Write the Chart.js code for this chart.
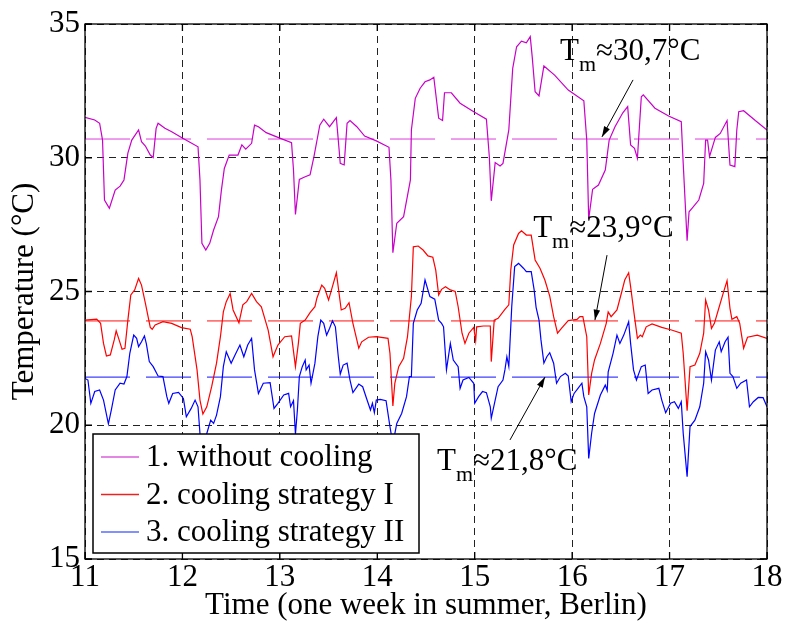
<!DOCTYPE html>
<html>
<head>
<meta charset="utf-8">
<script src="https://cdn.jsdelivr.net/npm/chart.js@4.4.1/dist/chart.umd.min.js"></script>
<style>
  body { margin: 0; background: #fff; }
  #wrap { width: 785px; height: 624px; }
</style>
</head>
<body>
<div id="wrap"><canvas id="temps" width="785" height="624"></canvas></div>
<script>
// time axis in days (11 .. 18), temperatures in °C
var xTicks = [11, 12, 13, 14, 15, 16, 17, 18];
var yTicks = [15, 20, 25, 30, 35];

var seriesNames = ["1. without cooling", "2. cooling strategy I", "3. cooling strategy II"];
var meanTemps = [30.7, 23.9, 21.8];
var meanLabels = ["≈30,7°C", "≈23,9°C", "≈21,8°C"];

// 1. without cooling
var tWithout = [11.00,11.10,11.15,11.18,11.20,11.25,11.31,11.36,11.40,11.44,11.48,11.55,11.58,11.62,11.67,11.70,11.73,11.75,11.82,11.89,
  11.99,12.16,12.18,12.20,12.24,12.28,12.32,12.37,12.40,12.43,12.48,12.57,12.61,12.65,12.71,12.74,12.78,12.86,12.98,13.12,
  13.14,13.16,13.20,13.26,13.31,13.35,13.41,13.45,13.51,13.58,13.62,13.66,13.69,13.72,13.79,13.87,13.99,14.12,14.14,14.16,
  14.20,14.27,14.34,14.35,14.39,14.44,14.49,14.54,14.58,14.63,14.67,14.69,14.76,14.85,14.99,15.12,15.15,15.17,15.21,15.26,
  15.29,15.35,15.39,15.43,15.48,15.53,15.57,15.59,15.62,15.66,15.71,15.82,15.96,16.12,16.15,16.17,16.21,16.27,16.34,16.38,
  16.44,16.52,16.57,16.60,16.64,16.67,16.71,16.73,16.85,16.99,17.12,17.14,17.18,17.20,17.23,17.30,17.35,17.37,17.39,17.41,
  17.47,17.52,17.59,17.62,17.67,17.69,17.71,17.76,17.88,18.00];
var tempWithout = [31.51,31.41,31.29,30.66,28.42,28.11,28.79,28.94,29.17,30.17,30.66,31.04,30.60,30.44,30.10,30.01,31.10,31.29,31.10,30.97,
  30.76,30.41,29.17,26.80,26.55,26.80,27.30,27.80,28.79,29.60,30.10,30.10,30.48,30.32,30.54,31.22,31.16,30.94,30.76,30.56,
  29.54,27.88,29.19,29.29,29.36,30.04,31.22,31.44,31.16,31.50,29.79,29.73,31.29,31.39,31.16,30.81,30.63,30.39,29.17,26.45,
  27.55,27.80,29.17,31.04,32.22,32.60,32.84,32.91,33.01,31.48,31.39,32.43,32.43,32.04,31.72,31.44,30.04,28.39,29.82,29.69,
  29.79,31.04,33.34,34.15,34.36,34.30,34.53,33.78,32.47,32.31,33.43,33.09,32.53,32.13,30.66,27.70,28.82,28.98,29.54,30.66,
  31.16,31.68,31.91,30.48,30.35,29.98,32.28,32.35,31.85,31.56,31.35,29.79,26.90,27.98,28.11,28.42,29.04,30.66,30.66,30.04,
  30.76,30.91,31.39,29.73,29.67,31.04,31.72,31.76,31.39,31.04];

// 2. cooling strategy I
var tStrategy1 = [11.00,11.12,11.16,11.19,11.22,11.26,11.30,11.32,11.35,11.38,11.41,11.44,11.47,11.51,11.55,11.58,11.62,11.67,11.69,11.72,
  11.80,11.89,11.99,12.08,12.10,12.15,12.18,12.21,12.25,12.30,12.35,12.39,12.42,12.45,12.49,12.52,12.58,12.62,12.66,12.71,
  12.76,12.81,12.88,12.93,12.98,13.05,13.12,13.16,13.19,13.21,13.26,13.31,13.36,13.38,13.43,13.46,13.50,13.53,13.58,13.63,
  13.67,13.71,13.75,13.81,13.84,13.91,13.99,14.11,14.13,14.16,14.18,14.22,14.27,14.31,14.35,14.37,14.42,14.47,14.52,14.57,
  14.60,14.63,14.66,14.70,14.75,14.80,14.83,14.87,14.90,14.94,14.99,15.01,15.02,15.09,15.16,15.17,15.20,15.24,15.31,15.35,
  15.37,15.40,15.45,15.48,15.53,15.58,15.62,15.67,15.72,15.77,15.81,15.85,15.89,15.96,16.05,16.08,16.11,16.15,16.17,16.20,
  16.23,16.29,16.35,16.37,16.40,16.46,16.51,16.54,16.58,16.60,16.64,16.67,16.70,16.72,16.76,16.82,16.92,17.02,17.12,17.14,
  17.18,17.21,17.26,17.31,17.35,17.37,17.40,17.43,17.46,17.50,17.55,17.59,17.62,17.64,17.69,17.72,17.76,17.80,17.90,18.00];
var tempStrategy1 = [23.93,23.97,23.81,23.06,22.59,22.63,23.19,23.53,23.19,22.84,22.88,23.93,24.87,25.06,25.49,25.24,24.56,23.66,23.59,23.75,
  23.87,23.81,23.65,23.59,23.31,22.07,20.94,20.42,20.69,21.44,22.32,23.31,24.24,24.62,24.93,24.31,23.83,24.50,24.62,24.93,
  24.62,24.43,23.56,22.56,23.00,23.31,23.34,22.19,23.06,23.81,23.93,24.21,24.43,24.75,25.24,25.12,24.68,25.06,25.70,24.31,
  24.37,24.58,23.81,22.88,23.12,23.29,23.31,23.25,22.69,20.72,21.57,22.19,22.50,23.31,24.81,26.67,26.70,26.55,26.33,26.28,
  25.80,24.87,25.08,25.18,25.06,25.00,24.43,23.44,23.06,23.44,23.66,23.16,23.68,23.71,23.71,22.38,23.93,24.00,24.33,24.50,
  25.80,26.74,27.17,27.27,27.11,27.11,26.18,25.87,25.43,24.83,24.06,23.44,23.62,23.91,23.96,24.06,24.06,23.31,21.13,21.94,
  22.44,23.06,23.81,24.24,24.06,24.31,25.00,25.43,25.70,25.18,24.06,23.25,23.37,23.31,23.68,23.79,23.66,23.56,23.44,22.69,
  20.54,22.19,22.25,22.69,23.44,24.68,24.31,23.62,23.81,24.31,24.93,25.40,24.37,23.96,24.06,23.81,22.88,23.29,23.37,23.25];

// 3. cooling strategy II
var tStrategy2 = [11.00,11.03,11.06,11.10,11.15,11.19,11.24,11.27,11.31,11.36,11.40,11.43,11.46,11.50,11.53,11.55,11.58,11.61,11.63,11.66,
  11.70,11.75,11.80,11.84,11.86,11.90,11.96,12.01,12.04,12.09,12.13,12.16,12.18,12.21,12.25,12.29,12.32,12.35,12.39,12.42,
  12.45,12.50,12.54,12.59,12.63,12.67,12.71,12.74,12.78,12.83,12.90,12.94,12.98,13.04,13.09,13.11,13.14,13.16,13.18,13.20,
  13.23,13.26,13.27,13.30,13.32,13.36,13.39,13.42,13.45,13.48,13.51,13.54,13.57,13.60,13.62,13.65,13.69,13.72,13.75,13.81,
  13.85,13.89,13.93,13.95,13.97,13.99,14.03,14.09,14.13,14.16,14.20,14.25,14.30,14.33,14.35,14.37,14.41,14.45,14.49,14.54,
  14.59,14.63,14.66,14.68,14.71,14.75,14.78,14.83,14.85,14.88,14.94,14.99,15.00,15.04,15.08,15.12,15.16,15.17,15.21,15.24,
  15.29,15.31,15.33,15.35,15.36,15.38,15.41,15.45,15.50,15.53,15.58,15.61,15.63,15.66,15.68,15.71,15.74,15.77,15.81,15.84,
  15.88,15.93,15.96,15.99,16.02,16.06,16.10,16.12,16.15,16.17,16.20,16.23,16.29,16.34,16.36,16.37,16.42,16.46,16.49,16.53,
  16.58,16.60,16.63,16.66,16.71,16.75,16.78,16.82,16.89,16.92,16.96,17.01,17.05,17.09,17.12,17.14,17.18,17.21,17.26,17.31,
  17.35,17.37,17.40,17.43,17.47,17.51,17.53,17.57,17.60,17.62,17.65,17.69,17.73,17.79,17.82,17.86,17.91,17.96,18.00];
var tempStrategy2 = [21.75,21.69,20.82,21.26,21.32,20.94,20.05,20.57,21.32,21.57,21.54,21.82,22.69,23.37,23.25,22.94,23.12,23.34,23.04,22.38,
  22.19,21.84,21.82,21.07,20.82,21.19,21.23,21.00,20.32,20.63,20.94,20.69,19.69,19.30,19.69,20.19,20.07,20.38,21.07,22.19,
  22.75,22.32,22.63,23.00,22.56,23.00,23.25,22.07,21.19,21.57,21.59,20.63,20.82,21.13,21.19,20.69,20.92,19.67,20.57,21.82,
  22.19,22.44,22.07,22.25,21.57,22.32,23.31,23.93,23.81,23.37,23.62,23.91,23.68,22.56,21.91,22.25,22.32,21.69,21.22,21.54,
  21.44,21.00,20.57,20.82,20.47,20.94,20.97,20.92,19.95,19.30,20.07,20.44,21.07,21.82,21.82,23.81,24.31,24.56,25.43,24.81,
  24.71,23.93,23.81,23.68,22.07,23.06,22.44,22.19,21.38,21.69,21.79,21.57,20.82,21.07,21.26,21.22,20.69,20.26,20.94,21.44,
  21.69,22.07,22.56,22.20,22.94,24.43,25.93,26.05,25.87,25.74,25.74,25.06,24.41,23.93,23.19,22.32,22.56,22.71,22.32,21.57,
  21.82,21.94,21.84,20.88,21.19,21.38,21.57,21.07,20.69,18.76,19.70,20.44,21.13,21.50,21.30,22.00,22.69,23.37,23.06,23.37,
  23.87,23.06,22.07,21.69,22.19,22.25,21.19,21.32,21.38,20.94,20.47,20.82,20.88,20.63,20.88,19.70,18.08,19.95,20.19,20.69,
  21.57,22.75,22.44,21.69,22.81,23.12,22.75,23.12,23.29,21.94,21.82,21.38,21.57,21.69,20.69,20.88,21.04,21.03,20.69];

var lineColors = ["#c800c8", "#ff0000", "#0000ff"];
var meanColors = ["#dc3cdc", "#ff1010", "#1010ff"];
var legendColors = ["#d860d8", "#ee2020", "#5a6cff"];

// where the "T_m" notes and their arrows sit, in axis units
var notePos = [[15.875, 33.65], [15.60, 27.04], [14.613, 18.33]];
var arrowFrom = [[16.625, 32.91], [16.358, 26.36], [15.362, 19.45]];
var arrowTo = [[16.306, 30.78], [16.234, 23.93], [15.721, 21.80]];

var FONT = "'Liberation Serif', 'Times New Roman', serif";

var toPoints = function(xs, ys) {
    return xs.map(function(x, i) { return {x: x, y: ys[i]}; });
};

var datasets = [];
[[tWithout, tempWithout], [tStrategy1, tempStrategy1], [tStrategy2, tempStrategy2]].forEach(function(s, i) {
    datasets.push({
        label: seriesNames[i],
        data: toPoints(s[0], s[1]),
        borderColor: lineColors[i],
        borderWidth: 1.2,
        pointRadius: 0,
        tension: 0
    });
});
meanTemps.forEach(function(m, i) {
    datasets.push({
        label: "mean " + (i + 1),
        data: [{x: xTicks[0], y: m}, {x: xTicks[xTicks.length - 1], y: m}],
        borderColor: meanColors[i],
        borderWidth: 1,
        borderDash: [45, 16],
        pointRadius: 0
    });
});

var drawArrow = function(ctx, x1, y1, x2, y2) {
    var a = Math.atan2(y2 - y1, x2 - x1);
    ctx.beginPath();
    ctx.moveTo(x1, y1);
    ctx.lineTo(x2, y2);
    ctx.stroke();
    ctx.beginPath();
    ctx.moveTo(x2, y2);
    ctx.lineTo(x2 - 11 * Math.cos(a - 0.3), y2 - 11 * Math.sin(a - 0.3));
    ctx.lineTo(x2 - 11 * Math.cos(a + 0.3), y2 - 11 * Math.sin(a + 0.3));
    ctx.closePath();
    ctx.fill();
};

var extras = {
    id: 'extras',
    afterDraw: function(chart) {
        var ctx = chart.ctx;
        var area = chart.chartArea;
        var xs = chart.scales.x, ys = chart.scales.y;
        ctx.save();

        // axes box and inward ticks
        ctx.strokeStyle = '#000';
        ctx.lineWidth = 1.3;
        ctx.setLineDash([]);
        ctx.strokeRect(area.left, area.top, area.right - area.left, area.bottom - area.top);
        ctx.beginPath();
        xTicks.forEach(function(t) {
            var px = xs.getPixelForValue(t);
            ctx.moveTo(px, area.bottom); ctx.lineTo(px, area.bottom - 7);
            ctx.moveTo(px, area.top); ctx.lineTo(px, area.top + 7);
        });
        yTicks.forEach(function(t) {
            var py = ys.getPixelForValue(t);
            ctx.moveTo(area.left, py); ctx.lineTo(area.left + 7, py);
            ctx.moveTo(area.right, py); ctx.lineTo(area.right - 7, py);
        });
        ctx.stroke();

        // legend box
        var lx = area.left + 8, ly = area.bottom - 125, lw = 326, lh = 119;
        ctx.fillStyle = '#fff';
        ctx.fillRect(lx, ly, lw, lh);
        ctx.lineWidth = 1.5;
        ctx.strokeRect(lx, ly, lw, lh);
        ctx.font = '31px ' + FONT;
        ctx.textBaseline = 'middle';
        ctx.textAlign = 'left';
        seriesNames.forEach(function(name, i) {
            var ry = ly + 23 + i * 37.5;
            ctx.strokeStyle = legendColors[i];
            ctx.lineWidth = 1.3;
            ctx.beginPath();
            ctx.moveTo(lx + 8, ry);
            ctx.lineTo(lx + 46, ry);
            ctx.stroke();
            ctx.fillStyle = '#000';
            ctx.fillText(name, lx + 53, ry + 1);
        });

        // T_m notes with arrows
        ctx.fillStyle = '#000';
        ctx.strokeStyle = '#000';
        ctx.lineWidth = 1;
        ctx.textBaseline = 'alphabetic';
        meanLabels.forEach(function(lab, i) {
            var px = xs.getPixelForValue(notePos[i][0]);
            var py = ys.getPixelForValue(notePos[i][1]);
            ctx.font = '31px ' + FONT;
            ctx.fillText('T', px, py);
            var w = ctx.measureText('T').width;
            ctx.font = '22px ' + FONT;
            ctx.fillText('m', px + w, py + 11);
            var w2 = ctx.measureText('m').width;
            ctx.font = '31px ' + FONT;
            ctx.fillText(lab, px + w + w2, py);
            drawArrow(ctx,
                xs.getPixelForValue(arrowFrom[i][0]), ys.getPixelForValue(arrowFrom[i][1]),
                xs.getPixelForValue(arrowTo[i][0]), ys.getPixelForValue(arrowTo[i][1]));
        });
        ctx.restore();
    }
};

var chart = new Chart('temps', {
    type: 'line',
    data: { datasets: datasets },
    plugins: [extras],
    options: {
        responsive: false,
        animation: false,
        devicePixelRatio: 1,
        layout: { padding: { top: 24, right: 18, left: 0, bottom: 0 } },
        plugins: { legend: { display: false }, tooltip: { enabled: false } },
        scales: {
            x: {
                type: 'linear',
                min: xTicks[0],
                max: xTicks[xTicks.length - 1],
                afterBuildTicks: function(scale) {
                    scale.ticks = xTicks.map(function(v) { return {value: v}; });
                },
                afterFit: function(scale) { scale.height = 65; },
                grid: { color: '#222', lineWidth: 1, drawTicks: false },
                border: { display: false, dash: [7, 5] },
                ticks: { color: '#000', padding: 0, font: { family: FONT, size: 31 }, maxRotation: 0 },
                title: {
                    display: true,
                    text: 'Time (one week in summer, Berlin)',
                    color: '#000',
                    font: { family: FONT, size: 31 },
                    padding: { top: 0, bottom: 0 }
                }
            },
            y: {
                min: yTicks[0],
                max: yTicks[yTicks.length - 1],
                afterBuildTicks: function(scale) {
                    scale.ticks = yTicks.map(function(v) { return {value: v}; });
                },
                afterFit: function(scale) { scale.width = 85; },
                grid: { color: '#222', lineWidth: 1, drawTicks: false },
                border: { display: false, dash: [7, 5] },
                ticks: { color: '#000', padding: 5, font: { family: FONT, size: 31 } },
                title: {
                    display: true,
                    text: 'Temperature (°C)',
                    color: '#000',
                    font: { family: FONT, size: 31 },
                    padding: { top: 6, bottom: 0 }
                }
            }
        }
    }
});
</script>
</body>
</html>
